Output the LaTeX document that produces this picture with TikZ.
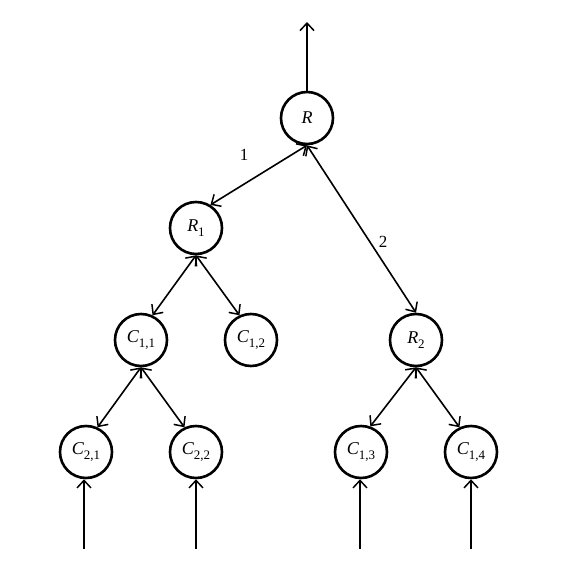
\documentclass[tikz,border=0pt]{standalone}
\usepackage{fontspec}
\setmainfont{Liberation Serif}
\usetikzlibrary{arrows.meta}
\newcommand{\lbsub}[2]{\textit{#1}\raisebox{-0.25em}{\fontsize{13}{15}\selectfont #2}}
\begin{document}
\begin{tikzpicture}[x=1pt,y=-1pt,
  nd/.style={circle,draw,line width=2.6pt,minimum size=52pt,inner sep=0pt,font=\fontsize{18}{21}\selectfont},
  lk/.style={line width=1.6pt,{Straight Barb[length=7.5pt,width=14pt,line width=1.5pt]}-{Straight Barb[length=7.5pt,width=14pt,line width=1.5pt]}},
  up/.style={line width=1.6pt,-{Straight Barb[length=7.5pt,width=14pt,line width=1.5pt]}},
  lb/.style={font=\fontsize{17}{20}\selectfont}]
\useasboundingbox (0,0) rectangle (565,574);
\node[nd] (R) at (307,118) {\textit{R}};
\node[nd] (R1) at (196,228) {\lbsub{R}{1}};
\node[nd] (R2) at (416,340) {\lbsub{R}{2}};
\node[nd] (C11) at (141,340) {\lbsub{C}{1,1}};
\node[nd] (C12) at (251,340) {\lbsub{C}{1,2}};
\node[nd] (C21) at (86,452) {\lbsub{C}{2,1}};
\node[nd] (C22) at (196,452) {\lbsub{C}{2,2}};
\node[nd] (C13) at (361,452) {\lbsub{C}{1,3}};
\node[nd] (C14) at (471,452) {\lbsub{C}{1,4}};
\coordinate (top) at (307,22);
\coordinate (b1) at (84,549);
\coordinate (b2) at (196,549);
\coordinate (b3) at (360,549);
\coordinate (b4) at (471,549);
\draw[up] (R) -- (top);
\draw[lk] (R1.58) -- (R.south);
\draw[lk] (R.south) -- (R2.north);
\draw[lk] (C11.65) -- (R1.south);
\draw[lk] (R1.south) -- (C12.115);
\draw[lk] (C21.65) -- (C11.south);
\draw[lk] (C11.south) -- (C22.115);
\draw[lk] (C13.70) -- (R2.south);
\draw[lk] (R2.south) -- (C14.115);
\draw[up] (b1) -- (C21.south -| b1);
\draw[up] (b2) -- (C22);
\draw[up] (b3) -- (C13.south -| b3);
\draw[up] (b4) -- (C14);
\node[lb] (l1) at (244,155) {1};
\node[lb] (l2) at (383,242) {2};
\end{tikzpicture}
\end{document}
